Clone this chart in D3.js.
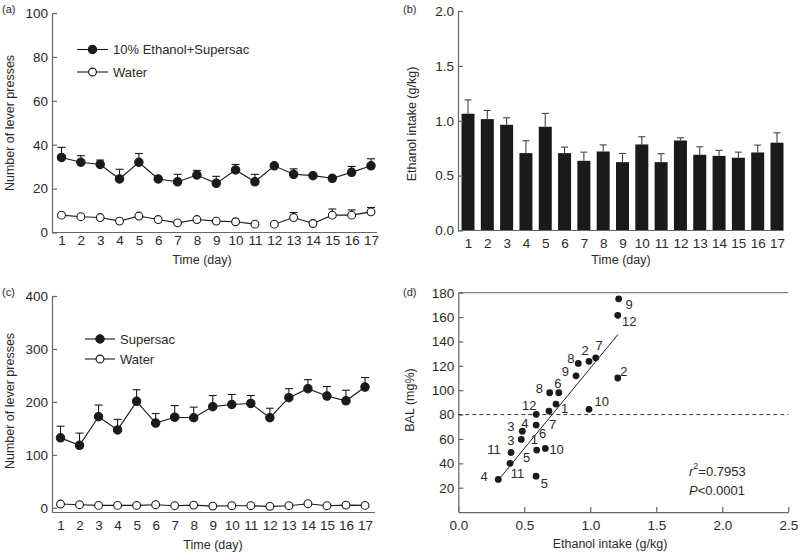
<!DOCTYPE html>
<html><head><meta charset="utf-8">
<script src="https://cdn.jsdelivr.net/npm/d3@7/dist/d3.min.js"></script>
<style>
body{margin:0;background:#fff}
svg{display:block;font-family:"Liberation Sans",Arial,Helvetica,sans-serif}
</style></head><body>
<svg id="chart" width="800" height="554"></svg>
<script>
// ---------- DATA ----------
const days = [1,2,3,4,5,6,7,8,9,10,11,12,13,14,15,16,17];

// (a) lever presses: 10% Ethanol+Supersac vs Water
const ethSupMean = [34.2,32.0,31.0,24.4,32.0,24.4,23.1,26.2,22.4,28.5,23.1,30.4,26.5,25.9,24.7,27.4,30.4];
const ethSupSem  = [4.6,3.0,2.0,4.4,4.0,0,3.4,2.1,3.2,2.5,3.4,0,2.5,0,0,2.7,3.2];
const waterAMean = [7.9,7.2,6.8,5.2,7.5,5.9,4.4,5.9,5.2,4.9,3.8,3.8,6.8,4.1,7.9,7.9,9.4];
const waterASem  = [0,0,0,0,0,0,0,0,0,0,0,0,2.3,0,2.8,2.4,2.0];
const waterABreakAfterDay = 11;
const aYTicks = [0,20,40,60,80,100];

// (b) ethanol intake (g/kg)
const intakeMean = [1.064,1.015,0.963,0.705,0.945,0.705,0.635,0.720,0.623,0.784,0.623,0.820,0.690,0.680,0.663,0.711,0.800];
const intakeSem  = [0.126,0.079,0.064,0.113,0.122,0.055,0.079,0.060,0.079,0.070,0.077,0.025,0.073,0.050,0.051,0.067,0.090];
const bYTicks = [0,0.5,1.0,1.5,2.0];

// (c) lever presses: Supersac vs Water
const supMean = [132,118,172,147,201,160,171,170,191,195,197,170,208,225,211,202,228];
const supSem  = [22,23,22,20,22,18,22,20,21,19,15,18,17,17,18,20,18];
const waterCMean = [7,5.7,4.4,4.4,4.4,5.7,3.8,5,3.1,3.8,3.8,2.5,3.8,7.6,3.8,5,4.4];
const cYTicks = [0,100,200,300,400];

// (d) BAL vs ethanol intake
const balX = [1.215,1.208,1.041,0.990,0.909,0.892,1.208,0.692,0.761,0.740,0.687,0.990,0.590,0.590,0.485,0.477,0.594,0.659,0.399,0.392,0.303,0.589];
const balY = [175,161.4,126.6,123.7,122.0,111.8,110,97.9,97.9,88.6,82.9,84.3,80.2,71.4,66.4,59.6,50.9,52.2,48.9,40.0,26.8,29.5];
const ptLabelText = ["9","12","2","7","2","8","9","8","6","1","10","12","3","4","7","6","3","1","11","10","5","4","11","5"];
const ptLabelX = [1.295,1.295,1.255,1.066,0.960,0.852,0.811,0.614,0.755,0.806,1.086,0.538,0.399,0.505,0.715,0.639,0.399,0.576,0.270,0.745,0.518,0.195,0.448,0.652];
const ptLabelY = [170.5,156.5,115.0,136.3,132.2,126.2,115.2,101.0,105.7,85.2,90.6,87.1,70.6,72.3,71.5,64.7,58.6,59.7,51.0,51.5,44.6,29.0,31.8,23.1];
const regX = [0.305,1.21];
const regY = [26.5,145.8];
const balLimit = 80;
const dXTicks = [0,0.5,1.0,1.5,2.0,2.5];
const dYTicks = [20,40,60,80,100,120,140,160,180];

// ---------- DRAWING ----------
const svg = d3.select("#chart");
const AX = "#666", TX = "#2a2a2a", MK = "#1a1a1a";
const FS = 13.5;

function styleAxis(g){
  g.selectAll("path,line").attr("stroke",AX).attr("stroke-width",1.2);
  g.selectAll("text").attr("fill",TX).attr("font-size",FS).attr("font-family",null);
}
function panelLabel(t,x,y){
  svg.append("text").attr("x",x).attr("y",y).attr("dominant-baseline","central")
    .attr("font-size",11).attr("fill",TX).text(t);
}
function yTitle(t,x,y){
  svg.append("text").attr("transform",`translate(${x},${y}) rotate(-90)`)
    .attr("text-anchor","middle").attr("dominant-baseline","central")
    .attr("font-size",12.5).attr("fill",TX).text(t);
}
function xTitle(t,x,y){
  svg.append("text").attr("x",x).attr("y",y).attr("text-anchor","middle")
    .attr("dominant-baseline","central").attr("font-size",12.5).attr("fill",TX).text(t);
}
function yAxis(scale,x,ticks,fmt){
  const g = svg.append("g").attr("transform",`translate(${x},0)`)
    .call(d3.axisLeft(scale).tickValues(ticks).tickFormat(fmt).tickSizeInner(-5).tickSizeOuter(0).tickPadding(4));
  styleAxis(g); return g;
}
function xDayAxis(scale,y,x0,x1,pad){
  svg.append("line").attr("x1",x0).attr("x2",x1).attr("y1",y).attr("y2",y)
    .attr("stroke",AX).attr("stroke-width",1.2);
  const g = svg.append("g").attr("transform",`translate(0,${y})`)
    .call(d3.axisBottom(scale).tickValues(days).tickFormat(d3.format("d")).tickSize(0).tickPadding(pad));
  g.select(".domain").remove();
  styleAxis(g); return g;
}
function errBars(x,y,mean,sem,cap,color){
  const g = svg.append("g").attr("stroke",color).attr("stroke-width",1.1);
  days.forEach((d,i)=>{
    if(!sem[i]) return;
    const top = y(mean[i]+sem[i]);
    g.append("line").attr("x1",x(d)).attr("x2",x(d)).attr("y1",y(mean[i])).attr("y2",top);
    g.append("line").attr("x1",x(d)-cap/2).attr("x2",x(d)+cap/2).attr("y1",top).attr("y2",top);
  });
}
function series(x,y,mean,filled,breakAfter){
  const line = d3.line().x(d=>x(d[0])).y(d=>y(d[1]));
  const pts = days.map((d,i)=>[d,mean[i]]);
  const segs = breakAfter ? [pts.filter(p=>p[0]<=breakAfter), pts.filter(p=>p[0]>breakAfter)] : [pts];
  segs.forEach(s=>svg.append("path").attr("d",line(s)).attr("fill","none").attr("stroke",MK).attr("stroke-width",1.1));
  svg.append("g").selectAll("circle").data(pts).join("circle")
    .attr("cx",d=>x(d[0])).attr("cy",d=>y(d[1])).attr("r",filled?4.2:3.9)
    .attr("fill",filled?MK:"#fff").attr("stroke",MK).attr("stroke-width",1.1);
}
function legendItem(x0,x1,y,filled,label){
  svg.append("line").attr("x1",x0).attr("x2",x1).attr("y1",y).attr("y2",y).attr("stroke",MK).attr("stroke-width",1.1);
  svg.append("circle").attr("cx",(x0+x1)/2).attr("cy",y).attr("r",filled?4.2:3.9)
    .attr("fill",filled?MK:"#fff").attr("stroke",MK).attr("stroke-width",1.1);
  svg.append("text").attr("x",x1+5).attr("y",y).attr("dominant-baseline","central")
    .attr("font-size",13).attr("fill",TX).text(label);
}

// ===== Panel (a) =====
{
  const x = d3.scaleLinear().domain([1,17]).range([61.5,371]);
  const y = d3.scaleLinear().domain([0,100]).range([232.5,13]);
  panelLabel("(a)",2,8.5);
  xDayAxis(x,232.5,52,377,3);
  yAxis(y,52,aYTicks,d3.format("d"));
  errBars(x,y,ethSupMean,ethSupSem,8,MK);
  errBars(x,y,waterAMean,waterASem,8,MK);
  series(x,y,ethSupMean,true);
  series(x,y,waterAMean,false,waterABreakAfterDay);
  legendItem(77,108,49.5,true,"10% Ethanol+Supersac");
  legendItem(77,108,72,false,"Water");
  xTitle("Time (day)",202,260);
  yTitle("Number of lever presses",10,123);
}

// ===== Panel (b) =====
{
  const x = d3.scaleLinear().domain([1,17]).range([468,777]);
  const y = d3.scaleLinear().domain([0,2]).range([230.5,11]);
  panelLabel("(b)",403,8.5);
  errBars(x,y,intakeMean,intakeSem,7,"#444");
  svg.append("g").selectAll("rect").data(days).join("rect")
    .attr("x",d=>x(d)-6.5).attr("width",13)
    .attr("y",(d,i)=>y(intakeMean[i])).attr("height",(d,i)=>y(0)-y(intakeMean[i]))
    .attr("fill",MK);
  xDayAxis(x,230.5,458,783,8);
  yAxis(y,458,bYTicks,d3.format(".1f"));
  xTitle("Time (day)",621,260);
  yTitle("Ethanol intake (g/kg)",411.5,124);
}

// ===== Panel (c) =====
{
  const x = d3.scaleLinear().domain([1,17]).range([60.5,365]);
  const y = d3.scaleLinear().domain([-9,400]).range([512.5,296]);
  panelLabel("(c)",2,292);
  xDayAxis(x,512.5,52,375,8);
  yAxis(y,52,cYTicks,d3.format("d"));
  errBars(x,y,supMean,supSem,8,MK);
  series(x,y,supMean,true);
  series(x,y,waterCMean,false);
  legendItem(85,115,339,true,"Supersac");
  legendItem(85,115,359,false,"Water");
  xTitle("Time (day)",213,545);
  yTitle("Number of lever presses",10,401);
}

// ===== Panel (d) =====
{
  const x = d3.scaleLinear().domain([0,2.5]).range([458.3,788.3]);
  const y = d3.scaleLinear().domain([0,180]).range([512.1,292.7]);
  panelLabel("(d)",403,292);
  // top frame line
  svg.append("line").attr("x1",x(0)).attr("x2",x(2.5)).attr("y1",y(180)).attr("y2",y(180))
    .attr("stroke","#888").attr("stroke-width",1.2);
  const gx = svg.append("g").attr("transform",`translate(0,${y(0)})`)
    .call(d3.axisBottom(x).tickValues(dXTicks).tickFormat(d3.format(".1f")).tickSizeInner(-5).tickSizeOuter(0).tickPadding(8));
  styleAxis(gx);
  yAxis(y,x(0),dYTicks,d3.format("d"));
  // limit line
  svg.append("line").attr("x1",x(0)).attr("x2",x(2.5)).attr("y1",y(balLimit)).attr("y2",y(balLimit))
    .attr("stroke","#333").attr("stroke-width",1).attr("stroke-dasharray","4,3");
  // regression line
  svg.append("line").attr("x1",x(regX[0])).attr("y1",y(regY[0])).attr("x2",x(regX[1])).attr("y2",y(regY[1]))
    .attr("stroke","#222").attr("stroke-width",1);
  svg.append("g").selectAll("circle").data(balX).join("circle")
    .attr("cx",d=>x(d)).attr("cy",(d,i)=>y(balY[i])).attr("r",3.4).attr("fill",MK);
  svg.append("g").selectAll("text").data(ptLabelText).join("text")
    .attr("x",(d,i)=>x(ptLabelX[i])).attr("y",(d,i)=>y(ptLabelY[i]))
    .attr("text-anchor","middle").attr("dominant-baseline","central")
    .attr("font-size",13).attr("fill",TX).text(d=>d);
  const r2 = svg.append("text").attr("x",689).attr("y",470.5).attr("dominant-baseline","central")
    .attr("font-size",13).attr("fill",TX);
  r2.append("tspan").attr("font-style","italic").text("r");
  r2.append("tspan").attr("font-size",9).attr("dy",-5).text("2");
  r2.append("tspan").attr("dy",5).text("=0.7953");
  const p = svg.append("text").attr("x",689).attr("y",490).attr("dominant-baseline","central")
    .attr("font-size",13).attr("fill",TX);
  p.append("tspan").attr("font-style","italic").text("P");
  p.append("tspan").text("<0.0001");
  xTitle("Ethanol intake (g/kg)",610,544);
  yTitle("BAL (mg%)",410,400);
}
</script>
</body></html>
